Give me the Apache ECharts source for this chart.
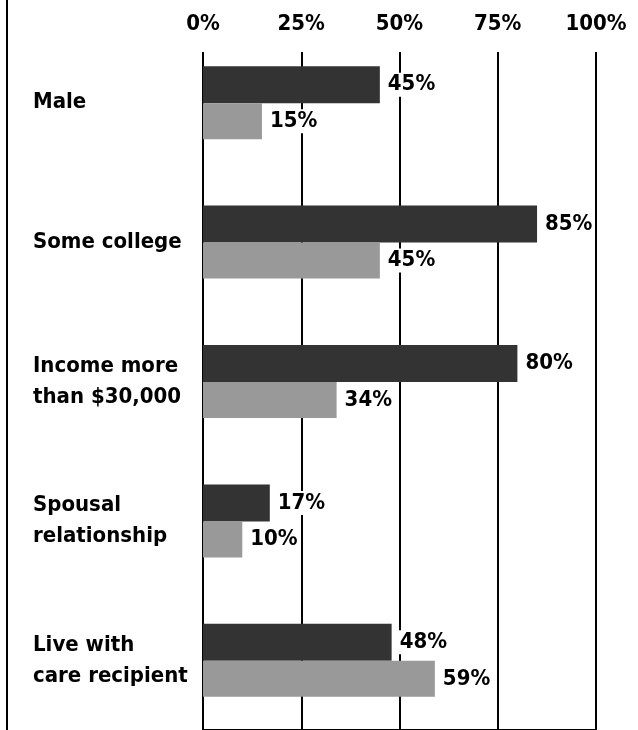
<!DOCTYPE html>
<html>
<head>
<meta charset="utf-8">
<script src="https://cdn.jsdelivr.net/npm/echarts@6/dist/echarts.min.js"></script>
<style>
html,body{margin:0;padding:0;background:#fff;}
#chart{width:638px;height:730px;}
</style>
</head>
<body>
<div id="chart"></div>
<script>
const categories = ['Male', 'Some college', 'Income more\nthan $30,000', 'Spousal\nrelationship', 'Live with\ncare recipient'];
const darkValues = [45, 85, 80, 17, 48];
const lightValues = [15, 45, 34, 10, 59];
const tickValues = [0, 25, 50, 75, 100];

const FONT = "'DejaVu Sans Condensed', 'Liberation Sans Narrow', sans-serif";
const chart = echarts.init(document.getElementById('chart'), null, {renderer: 'canvas'});

const valueLabel = {
  show: true,
  position: 'right',
  distance: 6,
  formatter: p => p.value + '%',
  fontFamily: FONT,
  fontSize: 22,
  fontWeight: 'bold',
  color: '#000',
  backgroundColor: '#fff',
  padding: [1, 2, 1, 2]
};

chart.setOption({
  animation: false,
  backgroundColor: '#fff',
  grid: [
    {left: 203, right: 42, top: 52, bottom: 0},
    {left: 203, right: 42, top: 33, bottom: -8}
  ],
  xAxis: [
    {
      gridIndex: 0, type: 'value', position: 'top',
      min: tickValues[0], max: tickValues[tickValues.length - 1], interval: 25,
      axisLine: {show: true, lineStyle: {color: '#000', width: 2}},
      axisTick: {show: false},
      splitLine: {show: true, lineStyle: {color: '#000', width: 2}},
      axisLabel: {
        formatter: '{value}%', margin: 17, color: '#000',
        fontFamily: FONT, fontSize: 22, fontWeight: 'bold'
      }
    },
    {
      gridIndex: 1, type: 'value', min: 0, max: 100, show: false
    }
  ],
  yAxis: [
    {gridIndex: 0, type: 'value', show: false},
    {
      gridIndex: 1, type: 'category', data: categories, inverse: true,
      axisLine: {show: false}, axisTick: {show: false}, splitLine: {show: false},
      axisLabel: {
        align: 'left', margin: 170, color: '#000',
        fontFamily: FONT, fontSize: 22, fontWeight: 'bold', lineHeight: 31
      }
    }
  ],
  graphic: [
    {type: 'line', shape: {x1: 7, y1: 0, x2: 7, y2: 730}, style: {stroke: '#000', lineWidth: 2}}
  ],
  series: [
    {
      name: 'Dark', type: 'bar', xAxisIndex: 1, yAxisIndex: 1,
      data: darkValues, barWidth: 37, barGap: '0%',
      itemStyle: {color: '#333333'}, label: valueLabel
    },
    {
      name: 'Light', type: 'bar', xAxisIndex: 1, yAxisIndex: 1,
      data: lightValues, barWidth: 36, barGap: '0%',
      itemStyle: {color: '#999999'}, label: valueLabel
    }
  ]
});
</script>
</body>
</html>
